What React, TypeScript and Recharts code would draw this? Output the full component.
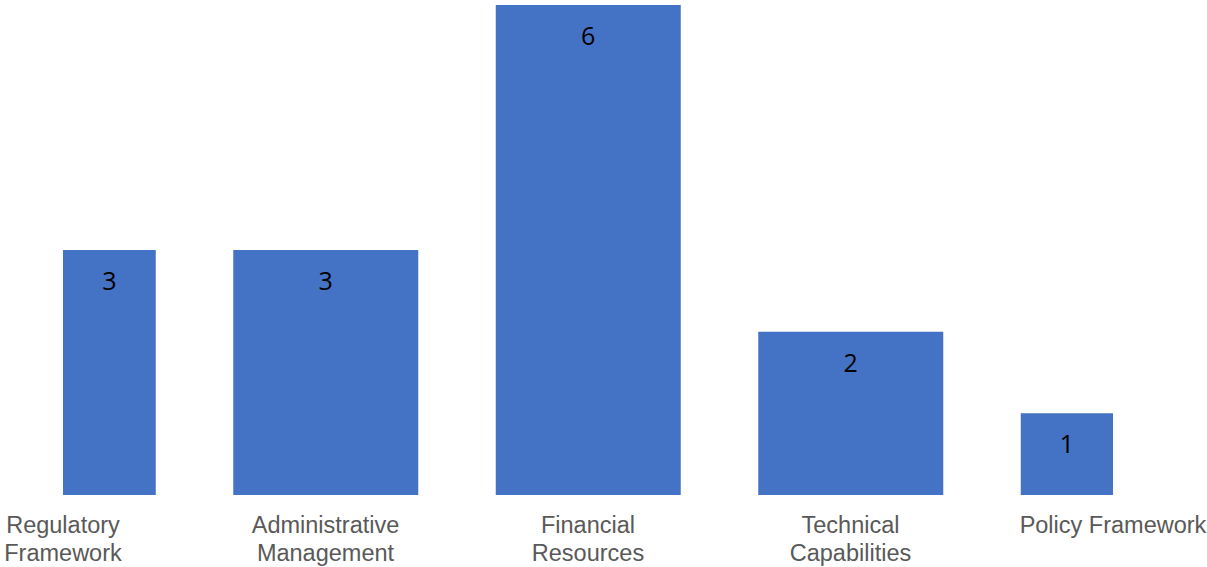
import { Bar, BarChart, LabelList, XAxis, YAxis } from "recharts";

// categories (split into the lines shown under each bar)
const categories = [
  "Regulatory Framework",
  "Administrative Management",
  "Financial Resources",
  "Technical Capabilities",
  "Policy Framework",
];
const categoryLines = [
  ["Regulatory", "Framework"],
  ["Administrative", "Management"],
  ["Financial", "Resources"],
  ["Technical", "Capabilities"],
  ["Policy Framework"],
];
const counts = [3, 3, 6, 2, 1];

const data = categories.map((name, i) => ({ idx: i, name, count: counts[i] }));

const W = 1207;
const H = 567;
const AXIS_H = 72;
const M = { top: 5, right: 94, bottom: 0, left: 63 };
const PLOT_L = M.left;
const PLOT_R = W - M.right;

function CategoryTick(props: any) {
  const { x, y, payload } = props;
  const lines = categoryLines[payload.value] ?? [];
  return (
    <text
      x={x}
      y={y}
      textAnchor="middle"
      fill="#595959"
      fontSize={23.5}
      fontFamily="'Liberation Sans', Arial, sans-serif"
    >
      {lines.map((l, i) => (
        <tspan key={i} x={x} dy={i === 0 ? 30 : 27.5}>
          {l}
        </tspan>
      ))}
    </text>
  );
}

function ValueLabel(props: any) {
  const { x, y, width, value } = props;
  const left = Math.max(x, PLOT_L);
  const right = Math.min(x + width, PLOT_R);
  return (
    <text
      x={(left + right) / 2}
      y={y + 30}
      textAnchor="middle"
      dominantBaseline="central"
      fill="#000"
      fontSize={25}
      fontFamily="'Open Sans', sans-serif"
    >
      {value}
    </text>
  );
}

export default function App() {
  return (
    <div style={{ position: "absolute", left: 0, top: 0, width: W, height: H, background: "#fff" }}>
      <BarChart width={W} height={H} data={data} margin={M}>
        <XAxis
          dataKey="idx"
          type="number"
          domain={[0, 4]}
          ticks={[0, 1, 2, 3, 4]}
          allowDataOverflow
          axisLine={false}
          tickLine={false}
          height={AXIS_H}
          interval={0}
          tick={<CategoryTick />}
        />
        <YAxis hide domain={[0, 6]} />
        <Bar dataKey="count" fill="#4472C4" barSize={185} isAnimationActive={false}>
          <LabelList dataKey="count" content={<ValueLabel />} />
        </Bar>
      </BarChart>
    </div>
  );
}
